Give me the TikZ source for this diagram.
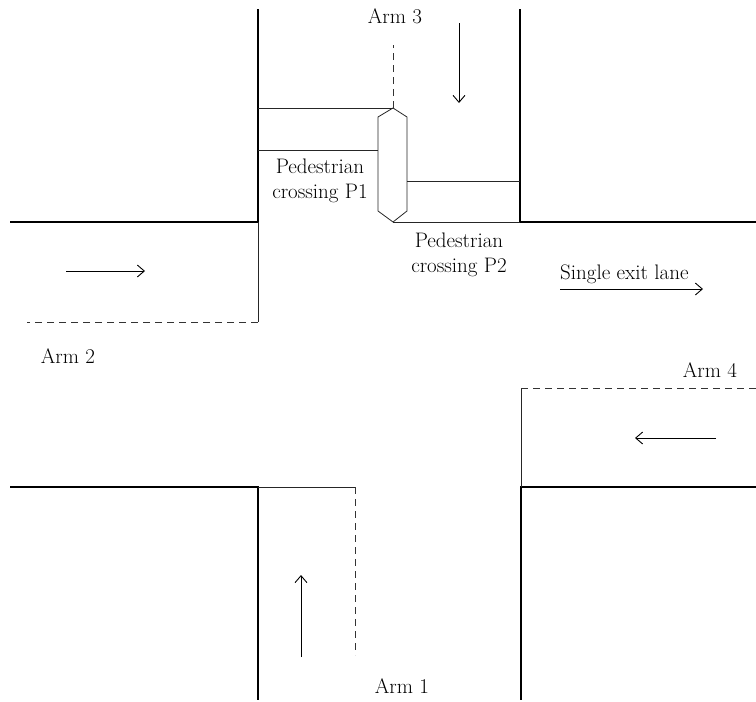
\documentclass[tikz,border=0pt]{standalone}
\usetikzlibrary{arrows.meta}
\begin{document}
\begin{tikzpicture}[x=1pt,y=-1pt,
  curb/.style={line width=2.8pt,line cap=butt},
  thin/.style={line width=0.8pt,draw=black!85},
  lanedash/.style={line width=0.8pt,draw=black!80,dash pattern=on 7pt off 5pt},
  flow/.style={line width=0.9pt,-{Straight Barb[length=7pt,width=12pt]}},
  lbl/.style={font=\fontsize{21}{25}\selectfont,align=center,inner sep=0pt}]
\useasboundingbox (0,0) rectangle (756,702);
% curbs
\draw[curb] (258,9) -- (258,222) -- (10,222);
\draw[curb] (520,9) -- (520,222) -- (756,222);
\draw[curb] (10,487) -- (258,487) -- (258,700);
\draw[curb] (756,487) -- (521,487) -- (521,700);
% arm 2 entry lane
\draw[thin] (258,222) -- (258,322);
\draw[lanedash] (258,322) -- (27,322);
% arm 1 entry lane
\draw[thin] (258,487) -- (355,487);
\draw[lanedash] (355,487) -- (355,655);
% arm 4 entry lane
\draw[thin] (521,487) -- (521,388);
\draw[lanedash] (521,388) -- (756,388);
% arm 3 centre line
\draw[lanedash] (393,108) -- (393,45);
% island
\draw[thin] (393,108) -- (407,117) -- (407,211) -- (393,222) -- (378,211) -- (378,117) -- cycle;
% crossing P1
\draw[thin] (258,108) -- (393,108);
\draw[thin] (258,150) -- (378,150);
% crossing P2
\draw[thin] (407,181) -- (520,181);
\draw[thin] (393,222) -- (520,222);
% flow arrows
\coordinate (a2s) at (66,271); \coordinate (a2e) at (145,271);
\draw[flow] (a2s) -- (a2e);
\coordinate (a3s) at (459,23); \coordinate (a3e) at (459,103);
\draw[flow] (a3s) -- (a3e);
\coordinate (a1s) at (301,657); \coordinate (a1e) at (301,575);
\draw[flow] (a1s) -- (a1e);
\coordinate (a4s) at (716,438); \coordinate (a4e) at (635,438);
\draw[flow] (a4s) -- (a4e);
\coordinate (exs) at (560,289); \coordinate (exe) at (703,289);
\draw[flow] (exs) -- (exe);
% labels
\node[lbl] (arm3) at (395,16) {Arm 3};
\node[lbl] (arm2) at (68,356) {Arm 2};
\node[lbl] (arm4) at (710,370) {Arm 4};
\node[lbl] (arm1) at (402,686) {Arm 1};
\node[lbl] (p1) at (320,181) {Pedestrian\\crossing P1};
\node[lbl] (p2) at (459,255) {Pedestrian\\crossing P2};
\node[lbl,anchor=west] (exit) at (560,274) {Single exit lane};
\end{tikzpicture}
\end{document}
